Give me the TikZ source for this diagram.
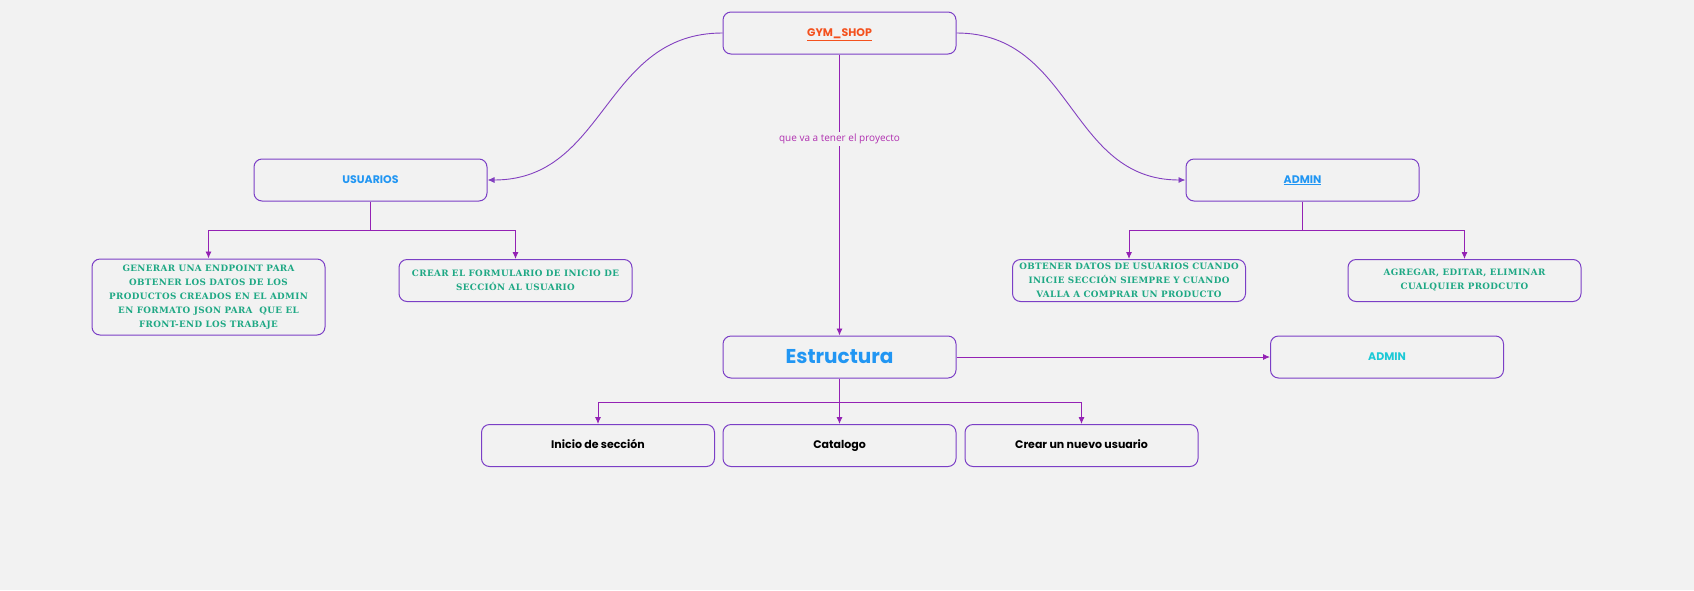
\documentclass[tikz,border=0pt]{standalone}
\usepackage{fontspec}
\usepackage{tikz}
\usetikzlibrary{arrows.meta}
\setmainfont{Poppins}
\newfontfamily\slabfont[LetterSpace=4]{DejaVu Serif}
\newfontfamily\notefont{Open Sans}
\definecolor{bg}{HTML}{F2F2F2}
\definecolor{edge}{HTML}{7B3FC6}
\definecolor{wire}{HTML}{9422B4}
\definecolor{bend}{HTML}{8340C0}
\definecolor{gymred}{HTML}{F4511E}
\definecolor{sky}{HTML}{2196F3}
\definecolor{aqua}{HTML}{1CC9D6}
\definecolor{mint}{HTML}{1EA884}
\definecolor{plum}{HTML}{B030B0}
\tikzset{
  box/.style={draw=edge, line width=1pt, rounded corners=8pt,
    minimum width=233pt, minimum height=42pt, inner sep=0pt, align=center},
  tall/.style={box, minimum height=76pt},
  head/.style={font=\bfseries\fontsize{11}{13}\selectfont,
    text height=1.5ex, text depth=0.3ex},
  task/.style={font=\slabfont\bfseries\fontsize{8.8}{14}\selectfont, text=mint},
  link/.style={draw=wire, line width=0.9pt, -{Latex[length=7pt,width=6pt]}},
  bendy/.style={draw=bend, line width=0.9pt, -{Latex[length=7pt,width=6pt]}},
  note/.style={font=\notefont\fontsize{10}{12}\selectfont, text=plum,
    fill=bg, inner sep=2pt}
}

\begin{document}
\begin{tikzpicture}[x=1pt, y=-1pt]
  \fill[bg] (0,0) rectangle (1694,590);
  \useasboundingbox (0,0) rectangle (1694,590);

  \node[box, head, text=gymred] (gym) at (839.5,33) {\underline{GYM\_SHOP}};
  \node[box, head, text=sky] (usu) at (370.5,180) {USUARIOS};
  \node[box, head, text=sky] (adm) at (1302.5,180) {\underline{ADMIN}};

  \node[tall, task] (gen) at (208.5,297) {GENERAR UNA ENDPOINT PARA\\OBTENER LOS DATOS DE LOS\\PRODUCTOS CREADOS EN EL ADMIN\\EN FORMATO JSON PARA\ \ QUE EL\\FRONT-END LOS TRABAJE};
  \node[box, task] (form) at (515.5,280.5) {CREAR EL FORMULARIO DE INICIO DE\\SECCIÓN AL USUARIO};
  \node[box, task] (datos) at (1129,280.5) {OBTENER DATOS DE USUARIOS CUANDO\\INICIE SECCIÓN SIEMPRE Y CUANDO\\VALLA A COMPRAR UN PRODUCTO};
  \node[box, task] (edit) at (1464.5,280.5) {AGREGAR, EDITAR, ELIMINAR\\CUALQUIER PRODCUTO};

  \node[box, font=\bfseries\fontsize{20}{24}\selectfont, text=sky] (est) at (839.5,357) {Estructura};
  \node[box, head, text=aqua] (adm2) at (1387,357) {ADMIN};

  \node[box, head, text=black] (ini) at (598,445.5) {Inicio de sección};
  \node[box, head, text=black] (cat) at (839.5,445.5) {Catalogo};
  \node[box, head, text=black] (nuevo) at (1081.5,445.5) {Crear un nuevo usuario};

  % curvas desde la raiz
  \draw[bendy] (gym.west) to[out=180, in=0, looseness=1.1] (usu.east);
  \draw[bendy] (gym.east) to[out=0, in=180, looseness=1.1] (adm.west);
  \draw[link] (gym.south) -- node[note, pos=0.3] {que va a tener el proyecto} (est.north);

  % ramas
  \coordinate (usuj) at (370.5,230);
  \coordinate (admj) at (1302.5,230);
  \coordinate (estj) at (839.5,402);
  \draw[link] (usu.south) -- (usuj) -| (gen.north);
  \draw[link] (usuj) -| (form.north);
  \draw[link] (adm.south) -- (admj) -| (datos.north);
  \draw[link] (admj) -| (edit.north);
  \draw[link] (est.east) -- (adm2.west);
  \draw[link] (est.south) -- (estj) -| (ini.north);
  \draw[link] (estj) -- (cat.north);
  \draw[link] (estj) -| (nuevo.north);
\end{tikzpicture}
\end{document}
